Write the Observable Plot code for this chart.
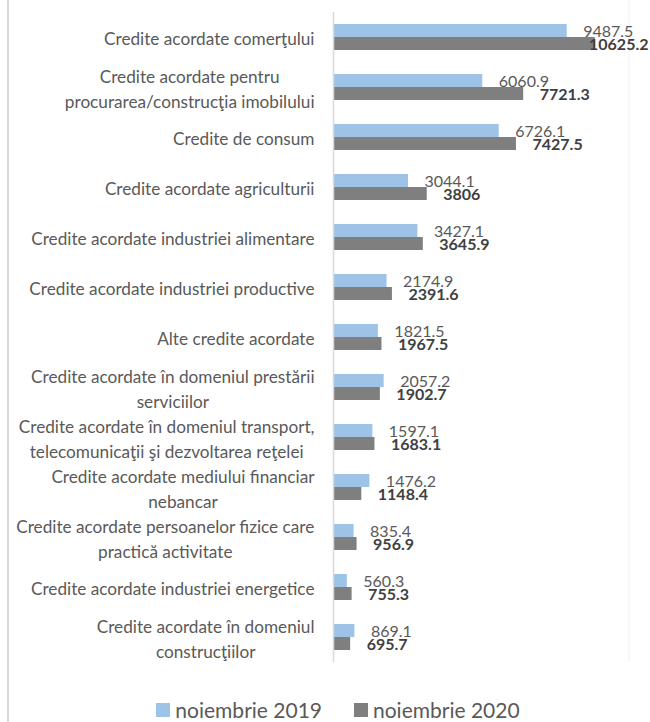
<!DOCTYPE html>
<html><head><meta charset="utf-8">
<script src="https://cdn.jsdelivr.net/npm/d3@7"></script>
<script src="https://cdn.jsdelivr.net/npm/@observablehq/plot@0.6"></script>
<style>
body{margin:0;background:#fff;font-family:Lato,"Open Sans",sans-serif;}
#wrap{position:relative;width:650px;height:722px;overflow:hidden;background:#fff;}
#frame{position:absolute;left:7px;top:0;width:2px;height:722px;background:#d9d9d9;}
#chart{position:absolute;left:0;top:0;}
#legend{position:absolute;left:0;top:697px;width:650px;box-sizing:border-box;padding-left:26px;display:flex;justify-content:center;align-items:center;font-size:21px;color:#595959;line-height:26px;}
.item{display:flex;align-items:center;}
.sw{width:14px;height:14px;margin-right:5px;}
.gap{width:32px;}
</style>
</head><body>
<div id="wrap"><div id="frame"></div><div id="chart"></div><div id="legend"></div></div>
<script>
const categories = [
  "Credite acordate comerţului",
  "Credite acordate pentru procurarea/construcţia imobilului",
  "Credite de consum",
  "Credite acordate agriculturii",
  "Credite acordate industriei alimentare",
  "Credite acordate industriei productive",
  "Alte credite acordate",
  "Credite acordate în domeniul prestării serviciilor",
  "Credite acordate în domeniul transport, telecomunicaţii şi dezvoltarea reţelei",
  "Credite acordate mediului financiar nebancar",
  "Credite acordate persoanelor fizice care practică activitate",
  "Credite acordate industriei energetice",
  "Credite acordate în domeniul construcţiilor"
];
const tickLabels = [
  "Credite acordate comerţului",
  "Credite acordate pentru\nprocurarea/construcţia imobilului",
  "Credite de consum",
  "Credite acordate agriculturii",
  "Credite acordate industriei alimentare",
  "Credite acordate industriei productive",
  "Alte credite acordate",
  "Credite acordate în domeniul prestării\nserviciilor",
  "Credite acordate în domeniul transport,\ntelecomunicaţii şi dezvoltarea reţelei",
  "Credite acordate mediului financiar\nnebancar",
  "Credite acordate persoanelor fizice care\npractică activitate",
  "Credite acordate industriei energetice",
  "Credite acordate în domeniul\nconstrucţiilor"
];
const v2019 = [9487.5, 6060.9, 6726.1, 3044.1, 3427.1, 2174.9, 1821.5, 2057.2, 1597.1, 1476.2, 835.4, 560.3, 869.1];
const v2020 = [10625.2, 7721.3, 7427.5, 3806, 3645.9, 2391.6, 1967.5, 1902.7, 1683.1, 1148.4, 956.9, 755.3, 695.7];
const seriesNames = ["noiembrie 2019", "noiembrie 2020"];
const colors = ["#9dc3e6", "#7f7f7f"];

const W = 650, H = 670, ML = 333, MR = 21.4, MT = 12, MB = 8;
const labSize = 17.2;
const fontLab = labSize + "px Lato";
const fontVal = "16px Lato";
const fontValB = "bold 16px Lato";

const rows = categories.map((c, i) => ({cat: c, label: tickLabels[i], a: v2019[i], b: v2020[i]}));

const ctx = document.createElement("canvas").getContext("2d");
function measure(t, f) { ctx.font = f; return ctx.measureText(t).width; }

const xs = Plot.scale({x: {domain: [0, 12000], range: [ML, W - MR]}});
const rightLimit = 648, valDx = 16;
function fits(v, f) { return xs.apply(v) + valDx + measure(String(v), f) <= rightLimit; }

const labelMarks = rows.map(r => {
  const w = d3.max(r.label.split("\n"), l => measure(l, fontLab));
  return Plot.text([r], {y: "cat", text: "label", frameAnchor: "left", textAnchor: "middle",
    dx: -(19 + w / 2), fill: "#595959", fontSize: labSize, lineHeight: 1.42});
});

const plot = Plot.plot({
  width: W, height: H,
  marginLeft: ML, marginRight: MR, marginTop: MT, marginBottom: MB,
  style: {fontFamily: "Lato, 'Open Sans', sans-serif", background: "transparent"},
  x: {domain: [0, 12000], axis: null},
  y: {domain: categories, axis: null, paddingInner: 0.48, paddingOuter: 0.24},
  marks: [
    Plot.ruleX([12000], {stroke: "#f0f0f0", strokeWidth: 1, insetTop: -MT}),
    Plot.barX(rows, {y: "cat", x: "a", fill: colors[0], insetBottom: 13}),
    Plot.barX(rows, {y: "cat", x: "b", fill: colors[1], insetTop: 13}),
    Plot.ruleX([0], {stroke: "#d9d9d9", strokeWidth: 1.5}),
    Plot.text(rows.filter(r => fits(r.a, fontVal)), {y: "cat", x: "a", text: d => String(d.a), textAnchor: "start", dx: valDx, dy: -6, fill: "#595959", fontSize: 16}),
    Plot.text(rows.filter(r => !fits(r.a, fontVal)), {y: "cat", text: d => String(d.a), frameAnchor: "right", textAnchor: "end", dx: rightLimit - (W - MR), dy: -6, fill: "#595959", fontSize: 16}),
    Plot.text(rows.filter(r => fits(r.b, fontValB)), {y: "cat", x: "b", text: d => String(d.b), textAnchor: "start", dx: valDx, dy: 7, fill: "#404040", fontSize: 16, fontWeight: "bold"}),
    Plot.text(rows.filter(r => !fits(r.b, fontValB)), {y: "cat", text: d => String(d.b), frameAnchor: "right", textAnchor: "end", dx: rightLimit - (W - MR), dy: 7, fill: "#404040", fontSize: 16, fontWeight: "bold"}),
    ...labelMarks
  ]
});
document.getElementById("chart").appendChild(plot);

const legend = document.getElementById("legend");
seriesNames.forEach((n, i) => {
  if (i > 0) { const g = document.createElement("div"); g.className = "gap"; legend.appendChild(g); }
  const it = document.createElement("div"); it.className = "item";
  const sw = document.createElement("div"); sw.className = "sw"; sw.style.background = colors[i];
  const tx = document.createElement("span"); tx.textContent = n;
  it.appendChild(sw); it.appendChild(tx); legend.appendChild(it);
});
</script>
</body></html>
